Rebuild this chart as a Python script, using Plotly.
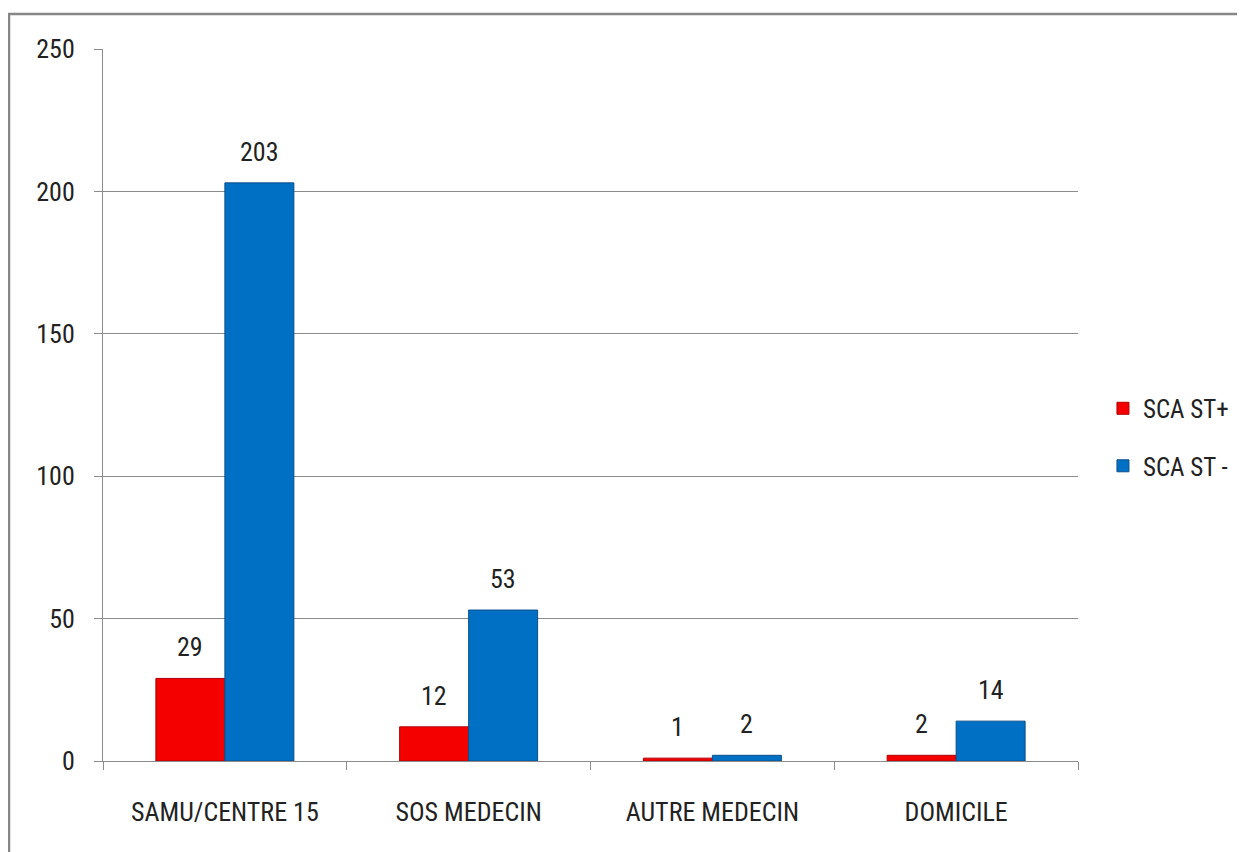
import plotly.graph_objects as go

categories = ["SAMU/CENTRE 15", "SOS MEDECIN", "AUTRE MEDECIN", "DOMICILE"]
st_plus = [29, 12, 1, 2]
st_minus = [203, 53, 2, 14]
y_ticks = [0, 50, 100, 150, 200, 250]

FONT = "Roboto Condensed, Liberation Sans Narrow, Arial Narrow, sans-serif"
TXT = "#222222"

L, T, PW, PH = 95, 41, 975, 712
W, H = 1245, 852
BARGAP = 0.434

fig = go.Figure()
fig.add_trace(go.Bar(
    x=categories, y=st_plus, name="SCA ST+",
    marker=dict(color="#F50000", line=dict(color="#B00000", width=1)),
    legendgroup="a",
))
fig.add_trace(go.Bar(
    x=categories, y=st_minus, name="SCA ST -",
    marker=dict(color="#0070C4", line=dict(color="#0B4F8A", width=1)),
    legendgroup="b",
))

# value labels above bars
bar_w = PW / len(categories) * (1 - BARGAP) / 2
annotations = []
for series, sh in ((st_plus, -bar_w / 2), (st_minus, bar_w / 2)):
    for c, v in zip(categories, series):
        annotations.append(dict(
            x=c, y=v, xref="x", yref="y", text=str(v), showarrow=False,
            xshift=sh, yshift=31, yanchor="middle",
            font=dict(size=26, family=FONT, color=TXT),
        ))

fig.update_layout(
    width=W, height=H,
    margin=dict(l=L, r=W - L - PW, t=T, b=H - T - PH),
    paper_bgcolor="white", plot_bgcolor="white",
    barmode="group", bargap=BARGAP, bargroupgap=0,
    font=dict(family=FONT, size=26, color=TXT),
    showlegend=True,
    legend=dict(x=1.0256, y=0.455, xanchor="left", yanchor="middle",
                font=dict(size=25, family=FONT, color=TXT), tracegroupgap=22,
                itemwidth=30),
    annotations=annotations,
)
fig.update_yaxes(
    range=[0, 250], tickvals=y_ticks, ticktext=[str(v) for v in y_ticks],
    showgrid=True, gridcolor="#8C8C8C", gridwidth=1,
    showline=True, linecolor="#8C8C8C", linewidth=1,
    ticks="outside", ticklen=8, tickcolor="#8C8C8C", ticklabelstandoff=14,
    tickfont=dict(size=26, family=FONT, color=TXT), zeroline=False,
)
fig.update_xaxes(
    showline=True, linecolor="#8C8C8C", linewidth=1,
    ticks="outside", ticklen=8, tickcolor="#8C8C8C", tickson="boundaries",
    ticklabelstandoff=28,
    tickfont=dict(size=26, family=FONT, color=TXT),
)
# outer chart border
fig.add_shape(type="rect", xref="paper", yref="paper",
              x0=(1 - L) / PW, y0=-0.3, x1=1.3, y1=1 + (T - 6) / PH,
              line=dict(color="#868686", width=2.5), fillcolor="rgba(0,0,0,0)",
              layer="below")

fig.write_html("out.html")
